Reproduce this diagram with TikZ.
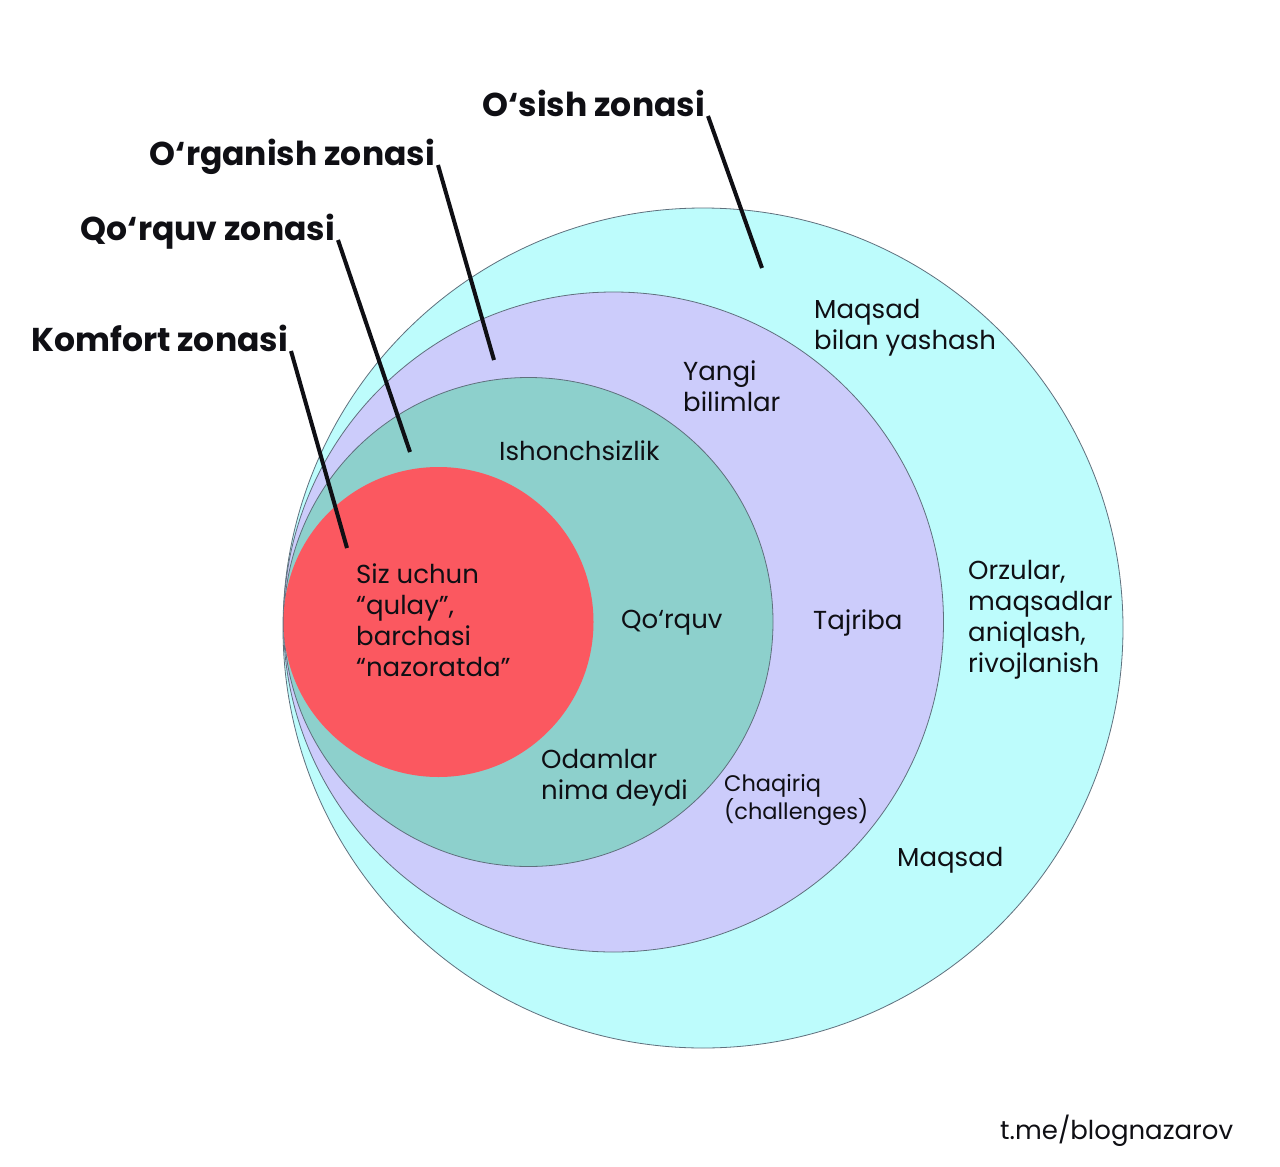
\documentclass[tikz,border=0pt]{standalone}
\usepackage{fontspec}
\setmainfont{Poppins}
\definecolor{cyanz}{RGB}{189,252,252}
\definecolor{lav}{RGB}{204,204,251}
\definecolor{tealz}{RGB}{141,208,204}
\definecolor{redz}{RGB}{251,88,96}
\definecolor{zline}{RGB}{95,112,125}
\definecolor{ink}{RGB}{15,15,20}
\begin{document}
\begin{tikzpicture}[x=1pt,y=-1pt,
  zone/.style={draw=zline, line width=0.8pt},
  title/.style={font=\bfseries\fontsize{33}{40}\selectfont, inner sep=0pt, anchor=base east, text=ink},
  body/.style={font=\fontsize{26}{31}\selectfont, align=left, inner sep=0pt, anchor=west, text=ink},
  small/.style={body, font=\fontsize{22.5}{28}\selectfont},
  leader/.style={line width=4pt, draw=ink}]
\useasboundingbox (0,0) rectangle (1280,1167);
\fill[white] (0,0) rectangle (1280,1167);
% zones
\filldraw[fill=cyanz, zone] (703,628) circle[radius=420];
\filldraw[fill=lav, zone] (613.5,622) circle[radius=330];
\filldraw[fill=tealz, zone] (528.5,622) circle[radius=244.5];
\fill[redz] (438.5,622) circle[radius=155];
% titles
\node[title] (tg) at (705,116) {O‘sish zonasi};
\node[title] (tl) at (435,165) {O‘rganish zonasi};
\node[title] (tf) at (335,240) {Qo‘rquv zonasi};
\node[title] (tc) at (288,351) {Komfort zonasi};
% leader ends
\coordinate (eg) at (762,268);
\coordinate (el) at (494,360);
\coordinate (ef) at (410,452);
\coordinate (ec) at (347,548);
\draw[leader] ([xshift=3pt]tg.base east) -- (eg);
\draw[leader] ([xshift=3pt]tl.base east) -- (el);
\draw[leader] ([xshift=3pt]tf.base east) -- (ef);
\draw[leader] ([xshift=3pt]tc.base east) -- (ec);
% body texts
\node[body] (b1) at (814,328) {Maqsad\\bilan yashash};
\node[body] (b2) at (683,386) {Yangi\\bilimlar};
\node[body] (b3) at (499,451) {Ishonchsizlik};
\node[body] (b4) at (356,620) {Siz uchun\\“qulay”,\\barchasi\\“nazoratda”};
\node[body] (b5) at (621,623) {Qo‘rquv};
\node[body] (b6) at (813,623) {Tajriba};
\node[body] (b7) at (968,620) {Orzular,\\maqsadlar\\aniqlash,\\rivojlanish};
\node[body] (b8) at (541,778) {Odamlar\\nima deydi};
\node[small] (b9) at (724,800) {Chaqiriq\\(challenges)};
\node[body] (b10) at (897,860) {Maqsad};
\node[body] (b11) at (1000,1131) {t.me/blognazarov};
\end{tikzpicture}
\end{document}
